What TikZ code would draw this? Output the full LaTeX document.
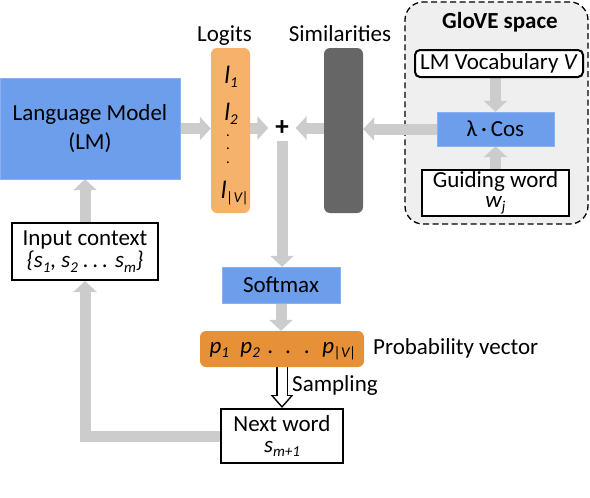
\documentclass[tikz,border=0pt]{standalone}
\usepackage{fontspec}
\setmainfont{Carlito}
\usetikzlibrary{arrows.meta}
\pgfdeclarelayer{backlayer}
\pgfdeclarelayer{edgelayer}
\pgfdeclarelayer{nodelayer}
\pgfsetlayers{backlayer,edgelayer,nodelayer,main}
\definecolor{lmblue}{HTML}{6D9EEB}
\definecolor{logitorange}{HTML}{F6B26B}
\definecolor{proborange}{HTML}{E69138}
\definecolor{simgray}{HTML}{666666}
\definecolor{flowgray}{HTML}{CCCCCC}
\definecolor{glovegray}{HTML}{EFEFEF}
\newcommand{\lowsub}[1]{\raisebox{-4.5pt}{\fontsize{15}{15}\selectfont #1}}
\tikzstyle{none}=[inner sep=0pt]
\tikzstyle{bluebox}=[rectangle,fill=lmblue,draw=lmblue!80!white,align=center,inner sep=1pt]
\tikzstyle{wordbox}=[rectangle,fill=white,draw=black,line width=2pt,align=center,inner sep=1pt]
\tikzstyle{column}=[rectangle,rounded corners=6pt,minimum width=39pt,minimum height=165pt]
\tikzstyle{glove}=[rectangle,rounded corners=18pt,fill=glovegray,draw=black,line width=1.3pt,dash pattern=on 6pt off 3.5pt,minimum width=183pt,minimum height=222pt]
\tikzstyle{flow}=[-{Triangle[length=11pt,width=23pt]},draw=flowgray,line width=11pt]

\begin{document}
\begin{tikzpicture}[x=1pt,y=-1pt,font=\fontsize{23}{28}\selectfont]
	\useasboundingbox (0,0) rectangle (590,498);
	\begin{pgfonlayer}{backlayer}
		\node [style=glove] (6) at (496.5, 113) {};
	\end{pgfonlayer}
	\begin{pgfonlayer}{nodelayer}
		\node [style=bluebox, minimum width=180pt, minimum height=101pt, font=\fontsize{23}{29}\selectfont] (0) at (90, 128.5) {Language Model\\(LM)};
		\node [style=column, fill=logitorange] (1) at (230.5, 130.5) {};
		\node [style=none, anchor=base] (2) at (224.5, 41) {Logits};
		\node [style=none, minimum width=27pt, minimum height=26pt, font=\fontsize{27}{27}\selectfont\bfseries] (3) at (282, 128) {+};
		\node [style=column, fill=simgray] (4) at (343.5, 130.5) {};
		\node [style=none, anchor=base] (5) at (340, 41) {Similarities};
		\node [style=none, font=\fontsize{23}{28}\selectfont\bfseries] (7) at (500, 22) {GloVE space};
		\node [style=wordbox, rounded corners=5pt, minimum width=168pt, minimum height=27pt] (8) at (499, 63.5) {LM Vocabulary \textit{V}};
		\node [style=bluebox, minimum width=117pt, minimum height=34pt] (9) at (495.5, 129) {λ\,·\,Cos};
		\node [style=wordbox, minimum width=147pt, minimum height=44pt, font=\fontsize{23}{20}\selectfont] (10) at (495.5, 193) {Guiding word\\\textit{w\lowsub{j}}};
		\node [style=wordbox, minimum width=146pt, minimum height=57pt, font=\fontsize{23}{22}\selectfont] (11) at (85, 251.5) {Input context\\\textit{\{s\lowsub{1}, s\lowsub{2} .\,.\,. s\lowsub{m}\}}};
		\node [style=bluebox, minimum width=118pt, minimum height=36pt] (12) at (281, 285) {Softmax};
		\node [style=column, fill=proborange, minimum width=164pt, minimum height=36pt] (13) at (282, 349) {};
		\node [style=none, anchor=base, font=\fontsize{23}{28}\selectfont\itshape] (14) at (283, 353) {p\lowsub{1}\enspace p\lowsub{2}\hspace{8pt}.\hspace{12pt}.\hspace{13pt}.\hspace{12pt}p\lowsub{|V|}};
		\node [style=none, anchor=base west] (16) at (373, 354) {Probability vector};
		\node [style=wordbox, minimum width=122pt, minimum height=54pt, font=\fontsize{23}{21}\selectfont] (15) at (282, 436) {Next word\\\textit{s\lowsub{m+1}}};
		\node [style=none, anchor=base west] (17) at (292, 391) {Sampling};
		\node [style=none, anchor=base, font=\fontsize{25}{28}\selectfont\itshape] (18) at (231, 83) {l\lowsub{1}};
		\node [style=none, anchor=base, font=\fontsize{25}{28}\selectfont\itshape] (19) at (231, 120) {l\lowsub{2}};
		\node [style=none, anchor=base, font=\fontsize{25}{28}\selectfont\itshape] (20) at (235, 198) {l\lowsub{|V|}};
		\node [style=none, align=center, font=\fontsize{12}{13.5}\selectfont\bfseries] (21) at (228, 149) {.\\.\\.};
	\end{pgfonlayer}
	\begin{pgfonlayer}{edgelayer}
		\draw [style=flow] (0.east) to (0.east -| 1.west);
		\draw [style=flow] (1.east |- 3.west) to (3.west);
		\draw [style=flow] (4.west |- 3.east) to (3.east);
		\draw [style=flow] (9.west) to (9.west -| 4.east);
		\draw [style=flow] (3.south) to (3.south |- 12.north);
		\draw [style=flow] (8.south -| 9.north) to (9.north);
		\draw [style=flow] (10.north) to (9.south);
		\draw [style=flow] (11.north) to (11.north |- 0.south);
		\draw [style=flow] (12.south) to (12.south |- 13.north);
		\draw [style=flow] (15.west) -| (11.south);
		\draw [-{Triangle[length=13pt,width=22pt]}, line width=12pt] (13.south) to (15.north);
		\draw [-{Triangle[length=9.6pt,width=16.2pt]}, draw=white, line width=9pt, shorten >=2.3pt] (13.south) to (15.north);
	\end{pgfonlayer}
\end{tikzpicture}
\end{document}
